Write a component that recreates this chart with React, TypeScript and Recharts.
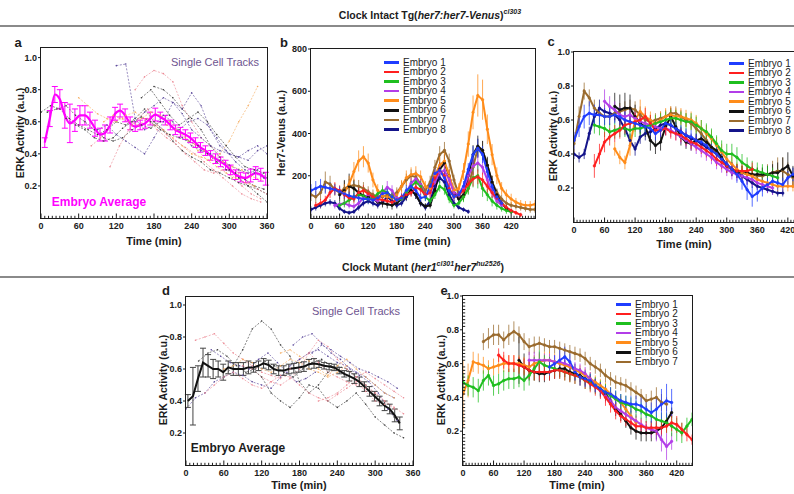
import React from "react";
import { LineChart, Line, XAxis, YAxis, ErrorBar } from "recharts";

const FONT = "'Liberation Sans', Arial, sans-serif";
const INK = "#1c1c1c";

// colours used by the embryo series
const EMBRYO_COLORS = ["#1f3dff", "#ff1f1f", "#1fbf1f", "#b23ee8", "#ff8c1a", "#111111", "#9a6b2e", "#14148a"];
const EMBRYO_NAMES_8 = ["Embryo 1", "Embryo 2", "Embryo 3", "Embryo 4", "Embryo 5", "Embryo 6", "Embryo 7", "Embryo 8"];
const EMBRYO_NAMES_7 = EMBRYO_NAMES_8.slice(0, 7);

const T_PURPLE = "#5e4b9c";
const T_PINK = "#ec8a95";
const T_GRAY = "#3c3c3c";
const T_ORANGE = "#f5ad62";

// tick labels
const TIME_360 = [0, 60, 120, 180, 240, 300, 360];
const TIME_420 = [0, 60, 120, 180, 240, 300, 360, 420];
const ERK_TICKS = [0.2, 0.4, 0.6, 0.8, 1.0];
const HER7_TICKS = [200, 400, 600, 800];

// ---------- panel a: single cell tracks (step 15 min) ----------
const aCellStarts = [0, 120, 150, 60, 180, 150, 110, 40, 100, 90, 80, 160, 200, 220, 10];
const aCellColors = [T_GRAY, T_PURPLE, T_PINK, T_ORANGE, T_GRAY, T_PURPLE, T_PINK, T_GRAY, T_ORANGE, T_PURPLE, T_PINK, T_GRAY, T_ORANGE, T_PURPLE, T_GRAY];
const aCell1 = [0.66, 0.7, 0.68, 0.62, 0.58, 0.55, 0.52, 0.55, 0.6, 0.58, 0.62, 0.68, 0.6, 0.55, 0.48, 0.42, 0.38, 0.35, 0.3, 0.28, 0.25, 0.22, 0.2, 0.18, 0.15];
const aCell2 = [0.95, 0.96, 0.62, 0.55, 0.58, 0.64, 0.6, 0.5, 0.45, 0.42, 0.4, 0.36, 0.33, 0.3, 0.28, 0.3, 0.25];
const aCell3 = [0.8, 0.88, 0.92, 0.9, 0.85, 0.7, 0.6, 0.5, 0.45, 0.4, 0.32, 0.28, 0.22, 0.18, 0.15];
const aCell4 = [0.75, 0.7, 0.65, 0.62, 0.6, 0.64, 0.66, 0.62, 0.58, 0.55, 0.5, 0.45, 0.4, 0.38, 0.36, 0.4, 0.48, 0.6, 0.7, 0.82];
const aCell5 = [0.82, 0.8, 0.75, 0.68, 0.62, 0.55, 0.45, 0.38, 0.3, 0.25, 0.2, 0.15, 0.1];
const aCell6 = [0.6, 0.66, 0.7, 0.75, 0.72, 0.68, 0.78, 0.7, 0.55, 0.45, 0.4, 0.38, 0.42, 0.45, 0.4];
const aCell7 = [0.32, 0.45, 0.55, 0.62, 0.68, 0.58, 0.52, 0.48, 0.44, 0.4, 0.35, 0.3, 0.25, 0.2, 0.15, 0.12, 0.1];
const aCell8 = [0.62, 0.58, 0.55, 0.5, 0.48, 0.5, 0.56, 0.6, 0.63, 0.6, 0.55, 0.52, 0.5, 0.48, 0.45, 0.4, 0.35, 0.3, 0.28, 0.24, 0.2, 0.18];
const aCell9 = [0.6, 0.64, 0.62, 0.58, 0.62, 0.66, 0.64, 0.6, 0.55, 0.48, 0.42, 0.36, 0.32, 0.28, 0.25, 0.22, 0.2];
const aCell10 = [0.55, 0.58, 0.52, 0.48, 0.44, 0.4, 0.5, 0.6, 0.72, 0.65, 0.55, 0.5, 0.45, 0.42, 0.4, 0.38, 0.36, 0.42, 0.45];
const aCell11 = [0.45, 0.5, 0.58, 0.62, 0.6, 0.58, 0.62, 0.55, 0.5, 0.46, 0.4, 0.35, 0.3, 0.28, 0.3, 0.25, 0.2, 0.15, 0.12];
const aCell12 = [0.75, 0.8, 0.72, 0.64, 0.58, 0.62, 0.66, 0.6, 0.52, 0.45, 0.38, 0.32, 0.3, 0.28];
const aCell13 = [0.58, 0.55, 0.5, 0.46, 0.42, 0.38, 0.35, 0.32, 0.3, 0.26, 0.24];
const aCell14 = [0.55, 0.6, 0.62, 0.58, 0.5, 0.42, 0.35, 0.3, 0.28, 0.25];
const aCell15 = [0.66, 0.68, 0.7, 0.64, 0.6, 0.55, 0.5, 0.48, 0.5, 0.55, 0.58, 0.56, 0.6];
const aCells = [aCell1, aCell2, aCell3, aCell4, aCell5, aCell6, aCell7, aCell8, aCell9, aCell10, aCell11, aCell12, aCell13, aCell14, aCell15];

// panel a: embryo average (from 6 min, step 8 min)
const aAvg = [0.47, 0.62, 0.77, 0.74, 0.64, 0.59, 0.61, 0.64, 0.64, 0.61, 0.56, 0.52, 0.53, 0.58, 0.65, 0.67, 0.64, 0.59, 0.57, 0.58, 0.59, 0.62, 0.645, 0.63, 0.61, 0.58, 0.55, 0.535, 0.52, 0.5, 0.47, 0.44, 0.42, 0.39, 0.37, 0.35, 0.33, 0.3, 0.27, 0.255, 0.25, 0.265, 0.28, 0.27, 0.245];
const aAvgErr = [0.03, 0.05, 0.05, 0.06, 0.08, 0.12, 0.07, 0.06, 0.06, 0.05, 0.05, 0.04, 0.05, 0.05, 0.04, 0.04, 0.04, 0.04, 0.03, 0.03, 0.03, 0.04, 0.04, 0.03, 0.03, 0.03, 0.03, 0.03, 0.03, 0.03, 0.03, 0.03, 0.03, 0.03, 0.03, 0.03, 0.03, 0.03, 0.03, 0.03, 0.03, 0.04, 0.04, 0.04, 0.04];

// ---------- panel b: Her7-Venus per embryo (step 10 min) ----------
const bStarts = [0, 10, 60, 50, 70, 60, 0, 0];
const bE1 = [130, 140, 150, 145, 140, 135, 125, 115, 105, 100, 95, 90, 90, 85, 95, 115, 120, 100, 85, 95, 130, 150, 130, 95, 100, 150, 210, 225, 190, 130, 100, 110, 150, 230, 300, 330, 300, 220, 150, 100, 70];
const bE2 = [60, 70, 85, 120, 140, 130, 110, 95, 90, 120, 130, 115, 100, 90, 85, 80, 75, 85, 100, 110, 120, 145, 135, 110, 120, 190, 225, 200, 140, 100, 110, 130, 160, 185, 195, 180, 150, 120, 95, 70, 50, 35, 25, 15];
const bE3 = [60, 70, 85, 100, 110, 105, 90, 95, 115, 130, 120, 100, 85, 90, 120, 150, 170, 150, 100, 80, 110, 150, 135, 90, 60, 70, 100, 140, 190, 200, 140, 110, 80, 60, 45, 35, 30];
const bE4 = [60, 65, 70, 60, 55, 70, 95, 110, 90, 80, 120, 145, 130, 95, 90, 120, 165, 185, 160, 110, 120, 170, 215, 225, 180, 120, 110, 140, 200, 245, 260, 240, 180, 120, 80, 60];
const bE5 = [120, 160, 220, 270, 290, 260, 180, 130, 105, 100, 95, 110, 150, 190, 205, 210, 195, 150, 140, 200, 250, 270, 200, 130, 140, 220, 350, 500, 580, 560, 420, 300, 200, 140, 110, 90, 75, 65, 60, 60, 65];
const bE6 = [110, 130, 150, 140, 120, 105, 100, 90, 75, 70, 65, 60, 70, 90, 110, 130, 110, 70, 55, 60, 130, 230, 260, 200, 120, 90, 110, 200, 300, 340, 320, 250, 170, 110, 70, 45, 30];
const bE7 = [110, 100, 120, 170, 160, 135, 120, 140, 150, 155, 150, 140, 125, 110, 100, 100, 110, 105, 120, 150, 180, 200, 195, 160, 130, 170, 240, 300, 320, 270, 180, 110, 100, 140, 240, 330, 320, 250, 170, 120, 90, 70, 60, 55, 50, 45, 40, 40];
const bE8 = [40, 50, 60, 70, 75, 70, 45, 30, 25, 30, 50, 70, 80, 70, 60, 75, 100, 80, 60, 70, 100, 130, 110, 70, 50, 80, 150, 190, 170, 110, 70, 50, 40, 30];
const bErr1 = [30, 35, 35, 30, 30, 25, 25, 25, 20, 20, 20, 20, 20, 20, 20, 20, 20, 20, 20, 20, 25, 25, 25, 20, 20, 25, 30, 30, 30, 25, 20, 20, 25, 30, 40, 45, 40, 35, 30, 25, 20];
const bErr2 = [15, 20, 20, 25, 30, 25, 20, 20, 20, 25, 25, 20, 20, 20, 20, 15, 15, 15, 20, 20, 20, 25, 25, 20, 20, 30, 35, 30, 25, 20, 20, 25, 30, 35, 35, 35, 30, 25, 20, 15, 15, 10, 10, 10];
const bErr3 = [20, 20, 20, 25, 25, 25, 20, 20, 20, 25, 25, 20, 20, 20, 25, 25, 30, 25, 20, 20, 20, 25, 25, 20, 15, 20, 25, 30, 45, 60, 40, 30, 25, 20, 15, 15, 10];
const bErr4 = [15, 15, 15, 15, 15, 20, 20, 25, 20, 20, 25, 30, 25, 20, 20, 20, 25, 30, 25, 20, 20, 25, 30, 30, 25, 20, 20, 25, 30, 40, 40, 35, 30, 25, 20, 15];
const bErr5 = [40, 40, 45, 50, 50, 45, 35, 30, 25, 25, 25, 25, 30, 35, 35, 35, 30, 25, 25, 35, 40, 40, 35, 25, 25, 40, 60, 80, 100, 95, 70, 50, 40, 30, 25, 25, 20, 20, 20, 20, 20];
const bErr6 = [30, 50, 60, 40, 30, 25, 25, 20, 20, 20, 20, 20, 20, 20, 25, 25, 20, 15, 15, 15, 25, 35, 40, 30, 25, 20, 25, 35, 45, 50, 45, 40, 30, 25, 20, 15, 10];
const bErr7 = [30, 30, 35, 50, 40, 30, 30, 35, 35, 30, 30, 30, 25, 25, 20, 20, 20, 20, 25, 25, 30, 30, 30, 25, 25, 30, 35, 40, 40, 35, 25, 20, 20, 25, 35, 45, 45, 35, 30, 20, 20, 15, 15, 15, 15, 15, 15, 15];
const bErr8 = [15, 15, 15, 15, 15, 15, 10, 10, 10, 10, 15, 15, 15, 15, 15, 15, 20, 15, 15, 15, 20, 20, 20, 15, 15, 15, 20, 25, 25, 20, 15, 10, 10, 10];
const bVals = [bE1, bE2, bE3, bE4, bE5, bE6, bE7, bE8];
const bErrs = [bErr1, bErr2, bErr3, bErr4, bErr5, bErr6, bErr7, bErr8];

// ---------- panel c: ERK per embryo, clock intact (step 10 min) ----------
const cStarts = [0, 40, 40, 60, 80, 80, 0, 0];
const cE1 = [0.48, 0.56, 0.62, 0.64, 0.63, 0.63, 0.62, 0.62, 0.63, 0.62, 0.6, 0.59, 0.58, 0.57, 0.56, 0.55, 0.52, 0.54, 0.58, 0.57, 0.55, 0.53, 0.51, 0.5, 0.48, 0.47, 0.45, 0.42, 0.4, 0.37, 0.34, 0.31, 0.28, 0.24, 0.19, 0.15, 0.17, 0.2, 0.22, 0.24, 0.23, 0.22, 0.26, 0.28];
const cE2 = [0.33, 0.4, 0.47, 0.5, 0.52, 0.54, 0.57, 0.58, 0.59, 0.6, 0.62, 0.58, 0.54, 0.54, 0.55, 0.53, 0.52, 0.51, 0.49, 0.47, 0.46, 0.44, 0.42, 0.4, 0.37, 0.35, 0.33, 0.31, 0.3, 0.3, 0.3, 0.31];
const cE3 = [0.57, 0.56, 0.55, 0.53, 0.54, 0.55, 0.55, 0.54, 0.55, 0.55, 0.56, 0.57, 0.58, 0.59, 0.6, 0.61, 0.61, 0.6, 0.59, 0.59, 0.57, 0.55, 0.53, 0.5, 0.46, 0.42, 0.4, 0.4, 0.38, 0.35, 0.33, 0.31, 0.3, 0.29, 0.28, 0.27, 0.26];
const cE4 = [0.71, 0.68, 0.66, 0.63, 0.62, 0.63, 0.61, 0.59, 0.58, 0.57, 0.56, 0.55, 0.55, 0.54, 0.52, 0.5, 0.48, 0.46, 0.44, 0.42, 0.4, 0.38, 0.35, 0.33, 0.31, 0.29, 0.28, 0.27, 0.26, 0.25, 0.23, 0.22, 0.21, 0.2];
const cE5 = [0.43, 0.38, 0.35, 0.45, 0.6, 0.65, 0.62, 0.6, 0.58, 0.6, 0.62, 0.63, 0.62, 0.62, 0.61, 0.6, 0.58, 0.55, 0.52, 0.49, 0.45, 0.41, 0.37, 0.34, 0.31, 0.29, 0.28, 0.27, 0.25, 0.24, 0.23, 0.22, 0.21, 0.21, 0.21, 0.21];
const cE6 = [0.68, 0.66, 0.67, 0.67, 0.62, 0.58, 0.56, 0.48, 0.45, 0.47, 0.56, 0.62, 0.56, 0.5, 0.47, 0.46, 0.48, 0.49, 0.47, 0.44, 0.42, 0.38, 0.33, 0.31, 0.3, 0.29, 0.29, 0.28, 0.28, 0.28, 0.28, 0.29, 0.29, 0.31, 0.33, 0.27];
const cE7 = [0.46, 0.62, 0.77, 0.73, 0.67, 0.64, 0.62, 0.62, 0.64, 0.65, 0.66, 0.67, 0.66, 0.63, 0.6, 0.59, 0.6, 0.61, 0.62, 0.64, 0.64, 0.62, 0.6, 0.58, 0.55, 0.52, 0.48, 0.44, 0.4, 0.37, 0.33, 0.31, 0.3, 0.29, 0.28, 0.28, 0.27, 0.27, 0.28, 0.29, 0.3, 0.3, 0.28, 0.26];
const cE8 = [0.4, 0.38, 0.4, 0.52, 0.62, 0.67, 0.65, 0.64, 0.63, 0.6, 0.55, 0.48, 0.43, 0.5, 0.52, 0.53, 0.55, 0.57, 0.58, 0.57, 0.55, 0.53, 0.51, 0.49, 0.48, 0.46, 0.44, 0.42, 0.4, 0.37, 0.34, 0.31, 0.29, 0.27, 0.25, 0.23, 0.21, 0.2, 0.19, 0.18, 0.17, 0.17];
const cErr1 = [0.05, 0.06, 0.07, 0.07, 0.06, 0.06, 0.05, 0.05, 0.05, 0.05, 0.05, 0.04, 0.04, 0.04, 0.04, 0.04, 0.04, 0.04, 0.04, 0.04, 0.04, 0.04, 0.04, 0.04, 0.04, 0.04, 0.04, 0.04, 0.04, 0.04, 0.04, 0.04, 0.05, 0.05, 0.06, 0.06, 0.05, 0.05, 0.04, 0.04, 0.04, 0.04, 0.04, 0.04];
const cErr2 = [0.07, 0.06, 0.06, 0.05, 0.05, 0.05, 0.05, 0.05, 0.05, 0.05, 0.05, 0.05, 0.04, 0.04, 0.04, 0.04, 0.04, 0.04, 0.04, 0.04, 0.04, 0.04, 0.04, 0.04, 0.04, 0.04, 0.04, 0.04, 0.04, 0.04, 0.04, 0.04];
const cErr3 = [0.05, 0.05, 0.05, 0.05, 0.05, 0.05, 0.05, 0.05, 0.05, 0.05, 0.05, 0.05, 0.05, 0.05, 0.05, 0.05, 0.05, 0.05, 0.05, 0.05, 0.05, 0.05, 0.05, 0.05, 0.05, 0.06, 0.06, 0.06, 0.06, 0.05, 0.05, 0.05, 0.05, 0.05, 0.05, 0.05, 0.05];
const cErr4 = [0.07, 0.06, 0.05, 0.05, 0.05, 0.05, 0.04, 0.04, 0.04, 0.04, 0.04, 0.04, 0.04, 0.04, 0.04, 0.04, 0.04, 0.04, 0.04, 0.04, 0.04, 0.04, 0.04, 0.04, 0.04, 0.04, 0.04, 0.04, 0.04, 0.04, 0.04, 0.04, 0.04, 0.04];
const cErr5 = [0.04, 0.04, 0.04, 0.06, 0.07, 0.07, 0.06, 0.05, 0.05, 0.05, 0.05, 0.05, 0.05, 0.05, 0.05, 0.05, 0.05, 0.05, 0.05, 0.05, 0.05, 0.05, 0.05, 0.05, 0.04, 0.04, 0.04, 0.04, 0.04, 0.04, 0.04, 0.03, 0.03, 0.03, 0.03, 0.03];
const cErr6 = [0.08, 0.09, 0.09, 0.08, 0.07, 0.06, 0.06, 0.06, 0.05, 0.05, 0.05, 0.05, 0.05, 0.05, 0.04, 0.04, 0.04, 0.04, 0.04, 0.04, 0.04, 0.04, 0.04, 0.04, 0.04, 0.04, 0.04, 0.04, 0.04, 0.04, 0.05, 0.05, 0.06, 0.07, 0.08, 0.06];
const cErr7 = [0.05, 0.06, 0.05, 0.05, 0.05, 0.05, 0.05, 0.05, 0.05, 0.05, 0.05, 0.05, 0.05, 0.05, 0.04, 0.04, 0.04, 0.04, 0.04, 0.04, 0.04, 0.04, 0.04, 0.04, 0.04, 0.04, 0.04, 0.04, 0.04, 0.04, 0.04, 0.04, 0.04, 0.04, 0.04, 0.05, 0.05, 0.05, 0.06, 0.07, 0.08, 0.08, 0.07, 0.06];
const cErr8 = [0.03, 0.03, 0.03, 0.04, 0.05, 0.05, 0.04, 0.04, 0.04, 0.04, 0.04, 0.04, 0.04, 0.04, 0.04, 0.04, 0.04, 0.04, 0.04, 0.04, 0.03, 0.03, 0.03, 0.03, 0.03, 0.03, 0.03, 0.03, 0.03, 0.03, 0.03, 0.03, 0.03, 0.03, 0.03, 0.03, 0.02, 0.02, 0.02, 0.02, 0.02, 0.02];
const cVals = [cE1, cE2, cE3, cE4, cE5, cE6, cE7, cE8];
const cErrs = [cErr1, cErr2, cErr3, cErr4, cErr5, cErr6, cErr7, cErr8];

// ---------- panel d: clock mutant single cells (step 15 min) ----------
const dCellStarts = [15, 60, 0, 90, 105, 150, 170, 30, 20, 200, 60, 210, 40];
const dCellColors = [T_PINK, T_GRAY, T_PURPLE, T_PINK, T_GRAY, T_ORANGE, T_PURPLE, T_PINK, T_GRAY, T_PURPLE, T_ORANGE, T_PINK, T_PURPLE];
const dCell1 = [0.78, 0.8, 0.82, 0.76, 0.7, 0.66, 0.62, 0.58, 0.56, 0.54, 0.6, 0.66, 0.7, 0.64, 0.58, 0.55, 0.52, 0.5, 0.48, 0.45, 0.4, 0.35];
const dCell2 = [0.55, 0.62, 0.72, 0.85, 0.9, 0.85, 0.75, 0.68, 0.52, 0.45, 0.5, 0.58, 0.62, 0.6, 0.55, 0.5, 0.44, 0.38, 0.3];
const dCell3 = [0.35, 0.42, 0.45, 0.52, 0.55, 0.58, 0.56, 0.52, 0.5, 0.48, 0.55, 0.62, 0.66, 0.7, 0.72, 0.68, 0.64, 0.62, 0.58, 0.55, 0.5, 0.45, 0.42];
const dCell4 = [0.62, 0.6, 0.55, 0.52, 0.5, 0.54, 0.6, 0.7, 0.78, 0.74, 0.66, 0.6, 0.55, 0.5, 0.45, 0.4, 0.36, 0.32];
const dCell5 = [0.6, 0.55, 0.45, 0.4, 0.36, 0.42, 0.5, 0.48, 0.4, 0.36, 0.4, 0.45, 0.38, 0.3, 0.25, 0.2, 0.17];
const dCell6 = [0.7, 0.72, 0.68, 0.65, 0.6, 0.56, 0.62, 0.66, 0.6, 0.55, 0.5, 0.45, 0.42];
const dCell7 = [0.75, 0.8, 0.82, 0.76, 0.7, 0.66, 0.6, 0.56, 0.52, 0.45, 0.35, 0.28];
const dCell8 = [0.45, 0.5, 0.55, 0.58, 0.54, 0.5, 0.48, 0.52, 0.56, 0.55, 0.5, 0.45, 0.42, 0.4, 0.44, 0.48, 0.52, 0.46, 0.4, 0.38];
const dCell9 = [0.65, 0.7, 0.72, 0.68, 0.62, 0.58, 0.6, 0.65, 0.62, 0.58, 0.55, 0.6, 0.64, 0.66, 0.62];
const dCell10 = [0.7, 0.75, 0.72, 0.68, 0.64, 0.6, 0.58, 0.55, 0.52, 0.48];
const dCell11 = [0.6, 0.62, 0.66, 0.64, 0.6, 0.58, 0.62, 0.66, 0.64, 0.6, 0.58, 0.55, 0.58, 0.62];
const dCell12 = [0.4, 0.42, 0.45, 0.5, 0.55, 0.58, 0.54, 0.5, 0.46, 0.42];
const dCell13 = [0.72, 0.68, 0.64, 0.62, 0.6, 0.66, 0.7, 0.64, 0.58, 0.52, 0.54, 0.58];
const dCells = [dCell1, dCell2, dCell3, dCell4, dCell5, dCell6, dCell7, dCell8, dCell9, dCell10, dCell11, dCell12, dCell13];

// panel d: embryo average (from 3 min, step 8 min)
const dAvg = [0.4, 0.43, 0.54, 0.64, 0.62, 0.6, 0.6, 0.58, 0.61, 0.6, 0.6, 0.6, 0.61, 0.61, 0.62, 0.635, 0.625, 0.6, 0.59, 0.59, 0.6, 0.605, 0.61, 0.615, 0.63, 0.635, 0.63, 0.62, 0.615, 0.61, 0.59, 0.57, 0.555, 0.54, 0.52, 0.49, 0.46, 0.43, 0.4, 0.37, 0.35, 0.31, 0.26];
const dAvgErr = [0.04, 0.18, 0.08, 0.09, 0.07, 0.06, 0.05, 0.05, 0.04, 0.04, 0.04, 0.04, 0.04, 0.03, 0.03, 0.03, 0.03, 0.03, 0.03, 0.03, 0.03, 0.03, 0.03, 0.03, 0.03, 0.03, 0.02, 0.02, 0.02, 0.02, 0.02, 0.02, 0.03, 0.03, 0.03, 0.03, 0.03, 0.03, 0.03, 0.03, 0.03, 0.04, 0.04];

// ---------- panel e: ERK per embryo, clock mutant (step 10 min) ----------
const eStarts = [170, 70, 0, 130, 0, 110, 40];
const eE1 = [0.58, 0.6, 0.62, 0.64, 0.61, 0.55, 0.52, 0.51, 0.5, 0.47, 0.45, 0.43, 0.42, 0.4, 0.38, 0.37, 0.36, 0.36, 0.35, 0.33, 0.31, 0.33, 0.36, 0.38, 0.37];
const eE2 = [0.65, 0.62, 0.6, 0.6, 0.59, 0.58, 0.56, 0.55, 0.55, 0.55, 0.55, 0.56, 0.56, 0.55, 0.54, 0.53, 0.52, 0.5, 0.48, 0.46, 0.44, 0.4, 0.36, 0.32, 0.29, 0.27, 0.25, 0.23, 0.23, 0.22, 0.22, 0.22, 0.22, 0.23, 0.25, 0.24, 0.21, 0.18, 0.15];
const eE3 = [0.49, 0.47, 0.46, 0.44, 0.5, 0.53, 0.47, 0.48, 0.5, 0.51, 0.51, 0.52, 0.5, 0.53, 0.57, 0.61, 0.59, 0.58, 0.57, 0.56, 0.55, 0.54, 0.53, 0.52, 0.5, 0.49, 0.47, 0.45, 0.43, 0.41, 0.39, 0.37, 0.36, 0.35, 0.33, 0.32, 0.3, 0.29, 0.27, 0.26, 0.25, 0.23, 0.21, 0.19, 0.23, 0.27];
const eE4 = [0.62, 0.62, 0.62, 0.62, 0.62, 0.61, 0.61, 0.6, 0.59, 0.57, 0.56, 0.54, 0.51, 0.47, 0.44, 0.41, 0.38, 0.34, 0.32, 0.3, 0.28, 0.26, 0.24, 0.22, 0.21, 0.2, 0.15, 0.11, 0.14];
const eE5 = [0.42, 0.5, 0.61, 0.6, 0.59, 0.57, 0.58, 0.59, 0.6, 0.6, 0.6, 0.6, 0.59, 0.58, 0.6, 0.61, 0.62, 0.62, 0.61, 0.6, 0.59, 0.58, 0.56, 0.55, 0.53, 0.51, 0.49, 0.47, 0.45, 0.42, 0.39, 0.37, 0.33, 0.29, 0.25];
const eE6 = [0.62, 0.58, 0.56, 0.55, 0.54, 0.54, 0.55, 0.56, 0.57, 0.57, 0.55, 0.54, 0.53, 0.51, 0.49, 0.47, 0.45, 0.42, 0.38, 0.33, 0.3, 0.26, 0.22, 0.2, 0.19, 0.19, 0.19, 0.2, 0.22, 0.26, 0.31];
const eE7 = [0.73, 0.75, 0.77, 0.77, 0.74, 0.77, 0.79, 0.77, 0.73, 0.7, 0.71, 0.72, 0.71, 0.7, 0.7, 0.69, 0.68, 0.67, 0.66, 0.65, 0.63, 0.6, 0.58, 0.56, 0.53, 0.51, 0.49, 0.48, 0.47, 0.45, 0.43, 0.41, 0.38, 0.39, 0.4, 0.37, 0.36];
const eErr1 = [0.05, 0.05, 0.06, 0.06, 0.05, 0.05, 0.05, 0.05, 0.04, 0.04, 0.04, 0.04, 0.04, 0.04, 0.04, 0.04, 0.05, 0.05, 0.05, 0.05, 0.06, 0.07, 0.09, 0.1, 0.08];
const eErr2 = [0.04, 0.05, 0.05, 0.05, 0.05, 0.05, 0.05, 0.05, 0.05, 0.05, 0.05, 0.05, 0.05, 0.05, 0.05, 0.05, 0.05, 0.05, 0.05, 0.05, 0.05, 0.05, 0.05, 0.05, 0.04, 0.04, 0.04, 0.04, 0.04, 0.04, 0.04, 0.04, 0.04, 0.04, 0.05, 0.05, 0.04, 0.04, 0.03];
const eErr3 = [0.05, 0.06, 0.06, 0.07, 0.06, 0.06, 0.06, 0.06, 0.06, 0.06, 0.06, 0.06, 0.06, 0.06, 0.07, 0.07, 0.06, 0.06, 0.05, 0.05, 0.05, 0.05, 0.05, 0.05, 0.05, 0.05, 0.05, 0.05, 0.05, 0.05, 0.05, 0.05, 0.05, 0.05, 0.05, 0.05, 0.05, 0.05, 0.05, 0.05, 0.06, 0.06, 0.07, 0.06, 0.05, 0.04];
const eErr4 = [0.05, 0.05, 0.05, 0.04, 0.04, 0.04, 0.04, 0.04, 0.04, 0.04, 0.04, 0.04, 0.04, 0.04, 0.04, 0.04, 0.04, 0.04, 0.04, 0.04, 0.04, 0.04, 0.04, 0.04, 0.05, 0.06, 0.07, 0.08, 0.05];
const eErr5 = [0.2, 0.1, 0.06, 0.06, 0.05, 0.05, 0.05, 0.05, 0.05, 0.05, 0.05, 0.05, 0.05, 0.05, 0.05, 0.05, 0.05, 0.05, 0.05, 0.05, 0.04, 0.04, 0.04, 0.04, 0.04, 0.04, 0.04, 0.04, 0.04, 0.04, 0.04, 0.04, 0.04, 0.04, 0.04];
const eErr6 = [0.14, 0.08, 0.06, 0.05, 0.05, 0.05, 0.05, 0.05, 0.05, 0.05, 0.05, 0.04, 0.04, 0.04, 0.04, 0.04, 0.04, 0.04, 0.04, 0.04, 0.04, 0.04, 0.04, 0.05, 0.05, 0.05, 0.05, 0.05, 0.05, 0.04, 0.03];
const eErr7 = [0.05, 0.06, 0.06, 0.06, 0.05, 0.06, 0.06, 0.05, 0.05, 0.05, 0.05, 0.04, 0.04, 0.04, 0.04, 0.04, 0.04, 0.04, 0.04, 0.04, 0.04, 0.04, 0.04, 0.04, 0.04, 0.04, 0.04, 0.04, 0.04, 0.04, 0.04, 0.04, 0.04, 0.05, 0.06, 0.05, 0.04];
const eVals = [eE1, eE2, eE3, eE4, eE5, eE6, eE7];
const eErrs = [eErr1, eErr2, eErr3, eErr4, eErr5, eErr6, eErr7];

type Pt = { t: number; v: number; e: number };

function build(start: number, step: number, values: number[], errs?: number[]): Pt[] {
  return values.map((v, i) => ({ t: start + i * step, v, e: errs ? errs[i] ?? 0 : 0 }));
}

function tickList(max: number, step: number): number[] {
  const out: number[] = [];
  for (let k = 0; k * step <= max + 1e-9; k++) out.push(Math.round(k * step * 1000) / 1000);
  return out;
}

function makeXTick(majors: number[]) {
  return (props: any) => {
    const { x, y, payload } = props;
    const v = Number(payload.value);
    const major = majors.includes(v);
    return (
      <g>
        <line x1={x} x2={x} y1={y} y2={y - (major ? 4.5 : 2.2)} stroke={INK} strokeWidth={1} />
        {major && (
          <text x={x} y={y + 11} textAnchor="middle" fontSize={9} fontWeight={700} fontFamily={FONT} fill={INK}>
            {String(v)}
          </text>
        )}
      </g>
    );
  };
}

// labelled values get an outward mark and a label; every other tick is a short inward mark
function makeYTick(yLabels: number[], digits: number) {
  return (props: any) => {
    const { x, y, payload } = props;
    const v = Number(payload.value);
    const major = yLabels.some((m) => Math.abs(m - v) < 1e-6 * Math.max(1, Math.abs(m)));
    if (!major) {
      return <line x1={x} x2={x + 2.2} y1={y} y2={y} stroke={INK} strokeWidth={1} />;
    }
    return (
      <g>
        <line x1={x} x2={x - 3} y1={y} y2={y} stroke={INK} strokeWidth={1} />
        <text x={x - 4} y={y + 3.2} textAnchor="end" fontSize={9} fontWeight={700} fontFamily={FONT} fill={INK}>
          {digits > 0 ? v.toFixed(digits) : String(Math.round(v))}
        </text>
      </g>
    );
  };
}

interface PanelProps {
  frame: [number, number, number, number];
  xMax: number;
  yMax: number;
  xMajor: number[];
  yMajor: number[];
  yDigits: number;
  yMinorStep?: number;
  children: React.ReactNode;
}

function Panel({ frame, xMax, yMax, xMajor, yMajor, yDigits, yMinorStep, children }: PanelProps) {
  const [L, T, W, H] = frame;
  const YW = 34;
  const XH = 22;
  const MT = 8;
  const MR = 14;
  const xTicks = tickList(xMax, 6);
  const yTicks = yMinorStep ? tickList(yMax, yMinorStep).filter((v) => v > 0) : yMajor;
  return (
    <>
      <div style={{ position: "absolute", left: L - YW, top: T - MT }}>
        <LineChart width={W + YW + MR} height={H + MT + XH} margin={{ top: MT, right: MR, left: 0, bottom: 0 }}>
          <XAxis
            type="number"
            dataKey="t"
            domain={[0, xMax]}
            ticks={xTicks}
            interval={0}
            tickSize={0}
            tickMargin={0}
            axisLine={false}
            tickLine={false}
            height={XH}
            allowDataOverflow
            tick={makeXTick(xMajor)}
          />
          <YAxis
            type="number"
            domain={[0, yMax]}
            ticks={yTicks}
            interval={0}
            tickSize={0}
            tickMargin={0}
            axisLine={false}
            tickLine={false}
            width={YW}
            allowDataOverflow
            tick={makeYTick(yMajor, yDigits)}
          />
          {children}
        </LineChart>
      </div>
      <div
        style={{
          position: "absolute",
          left: L - 0.75,
          top: T - 0.75,
          width: W + 1.5,
          height: H + 1.5,
          border: `1.5px solid ${INK}`,
          boxSizing: "border-box",
          pointerEvents: "none",
        }}
      />
    </>
  );
}

function trackLines(cells: number[][], starts: number[], colors: string[], prefix: string) {
  return cells.map((vals, i) => (
    <Line
      key={prefix + i}
      data={build(starts[i], 15, vals)}
      dataKey="v"
      type="linear"
      stroke={colors[i]}
      strokeWidth={0.8}
      strokeOpacity={0.8}
      strokeDasharray="2 1.5"
      dot={{ r: 0.8, fill: colors[i], stroke: "none" }}
      isAnimationActive={false}
    />
  ));
}

function embryoLines(vals: number[][], errs: number[][], starts: number[], prefix: string) {
  const order = vals.map((_, i) => i).reverse();
  return order.map((i) => (
    <Line
      key={prefix + i}
      data={build(starts[i], 10, vals[i], errs[i])}
      dataKey="v"
      type="linear"
      stroke={EMBRYO_COLORS[i]}
      strokeWidth={2}
      dot={{ r: 1.3, fill: EMBRYO_COLORS[i], stroke: EMBRYO_COLORS[i], strokeWidth: 0.5 }}
      isAnimationActive={false}
    >
      <ErrorBar dataKey="e" width={0} stroke={EMBRYO_COLORS[i]} strokeWidth={1} strokeOpacity={0.75} direction="y" isAnimationActive={false} />
    </Line>
  ));
}

function Legend({ left, top, names }: { left: number; top: number; names: string[] }) {
  return (
    <div style={{ position: "absolute", left, top, fontFamily: FONT, fontSize: 10.5, color: INK }}>
      {names.map((n, i) => (
        <div key={n} style={{ display: "flex", alignItems: "center", height: 9.6, lineHeight: "9.6px", whiteSpace: "nowrap" }}>
          <span style={{ display: "inline-block", width: 15, height: 2.5, background: EMBRYO_COLORS[i], marginRight: 4 }} />
          <span style={{ display: "inline-block", height: 9.6, lineHeight: "9.6px", transform: "scaleX(0.95)", transformOrigin: "left center" }}>{n}</span>
        </div>
      ))}
    </div>
  );
}

function Txt({ x, y, size, bold, color, rotate, children }: any) {
  return (
    <div
      style={{
        position: "absolute",
        left: x,
        top: y,
        transform: `translate(-50%, -50%)${rotate ? " rotate(-90deg)" : ""}`,
        fontFamily: FONT,
        fontSize: size,
        fontWeight: bold ? 700 : 400,
        color: color || INK,
        whiteSpace: "nowrap",
        lineHeight: 1,
      }}
    >
      {children}
    </div>
  );
}

export default function App() {
  return (
    <div style={{ position: "fixed", left: 0, top: 0, width: 794, height: 494, overflow: "hidden", background: "#fff" }}>
      {/* section titles */}
      <Txt x={430} y={14} size={10.5} bold>
        Clock Intact Tg(<i>her7:her7-Venus</i>)<sup style={{ fontSize: 7 }}><i>cl303</i></sup>
      </Txt>
      <div style={{ position: "absolute", left: 0, top: 25, width: 794, height: 2, background: "#8a8a8a" }} />
      <Txt x={423} y={266} size={10.5} bold>
        Clock Mutant (<i>her1</i><sup style={{ fontSize: 7 }}><i>cl301</i></sup><i>her7</i><sup style={{ fontSize: 7 }}><i>hu2526</i></sup>)
      </Txt>
      <div style={{ position: "absolute", left: 0, top: 276, width: 794, height: 2, background: "#8a8a8a" }} />

      {/* panel a */}
      <Txt x={18} y={42} size={13} bold>a</Txt>
      <Panel frame={[41, 48, 226, 170]} xMax={360} yMax={1.06} xMajor={TIME_360} yMajor={ERK_TICKS} yDigits={1}>
        {trackLines(aCells, aCellStarts, aCellColors, "a")}
        <Line data={build(6, 8, aAvg, aAvgErr)} dataKey="v" type="monotone" stroke="#ff00ff" strokeWidth={2.2} dot={false} isAnimationActive={false}>
          <ErrorBar dataKey="e" width={3} stroke="#ff00ff" strokeWidth={1} direction="y" isAnimationActive={false} />
        </Line>
      </Panel>
      <Txt x={215} y={62} size={11} color="#6e5490">Single Cell Tracks</Txt>
      <Txt x={99} y={202} size={12} bold color="#ff00ff">Embryo Average</Txt>
      <Txt x={20} y={133} size={10.5} bold rotate>ERK Activity (a.u.)</Txt>
      <Txt x={154} y={241} size={11} bold>Time (min)</Txt>

      {/* panel b */}
      <Txt x={284} y={42} size={13} bold>b</Txt>
      <Panel frame={[311, 49, 224, 169]} xMax={470} yMax={800} xMajor={TIME_420} yMajor={HER7_TICKS} yDigits={0}>
        {embryoLines(bVals, bErrs, bStarts, "b")}
      </Panel>
      <Legend left={384} top={57.5} names={EMBRYO_NAMES_8} />
      <Txt x={281} y={133} size={10.5} bold rotate>Her7-Venus (a.u.)</Txt>
      <Txt x={423} y={241} size={11} bold>Time (min)</Txt>

      {/* panel c */}
      <Txt x={551} y={41} size={13} bold>c</Txt>
      <Panel frame={[574, 52, 222, 170]} xMax={436} yMax={1.0} xMajor={TIME_420} yMajor={ERK_TICKS} yDigits={1}>
        {embryoLines(cVals, cErrs, cStarts, "c")}
      </Panel>
      <Legend left={729} top={58.5} names={EMBRYO_NAMES_8} />
      <Txt x={553} y={136} size={10.5} bold rotate>ERK Activity (a.u.)</Txt>
      <Txt x={684} y={244} size={11} bold>Time (min)</Txt>

      {/* panel d */}
      <Txt x={166} y={290} size={13} bold>d</Txt>
      <Panel frame={[186, 297, 227, 168]} xMax={360} yMax={1.05} xMajor={TIME_360} yMajor={ERK_TICKS} yDigits={1}>
        {trackLines(dCells, dCellStarts, dCellColors, "d")}
        <Line data={build(3, 8, dAvg, dAvgErr)} dataKey="v" type="linear" stroke="#111" strokeWidth={2} dot={false} isAnimationActive={false}>
          <ErrorBar dataKey="e" width={3} stroke="#444" strokeWidth={1} direction="y" isAnimationActive={false} />
        </Line>
      </Panel>
      <Txt x={356} y={311} size={11} color="#6e5490">Single Cell Tracks</Txt>
      <Txt x={238} y={448} size={12} bold>Embryo Average</Txt>
      <Txt x={163} y={380} size={10.5} bold rotate>ERK Activity (a.u.)</Txt>
      <Txt x={299} y={485} size={11} bold>Time (min)</Txt>

      {/* panel e */}
      <Txt x={444} y={290} size={13} bold>e</Txt>
      <Panel frame={[463, 296, 229, 169]} xMax={450} yMax={1.0} xMajor={TIME_420} yMajor={ERK_TICKS} yDigits={1} yMinorStep={0.02}>
        {embryoLines(eVals, eErrs, eStarts, "e")}
      </Panel>
      <Legend left={616} top={299.5} names={EMBRYO_NAMES_7} />
      <Txt x={441} y={380} size={10.5} bold rotate>ERK Activity (a.u.)</Txt>
      <Txt x={577} y={485} size={11} bold>Time (min)</Txt>
    </div>
  );
}
